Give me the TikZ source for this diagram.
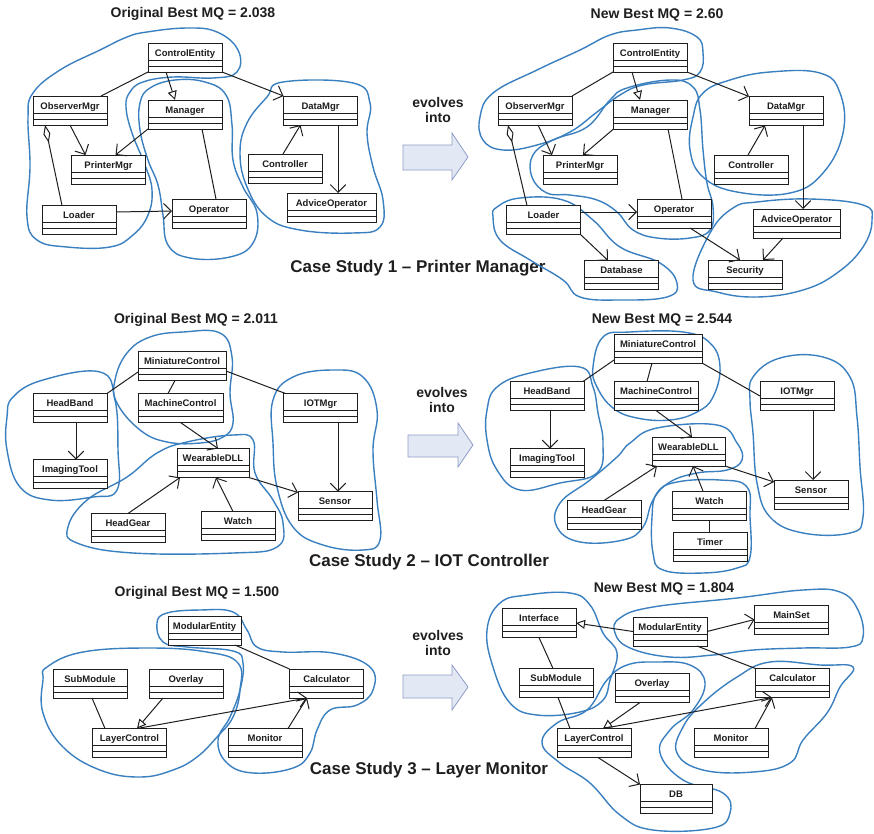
\documentclass[tikz,border=0pt]{standalone}
\usepackage{fontspec}
\setmainfont{Liberation Sans}
\usetikzlibrary{arrows.meta}

\definecolor{clusterblue}{HTML}{3A7FBF}
\definecolor{arrowfill}{HTML}{E3E8F5}
\definecolor{arrowedge}{HTML}{8D9CC6}
\definecolor{ink}{HTML}{1E1E1E}

\tikzset{
  cls/.style={draw=ink, line width=1pt, fill=white,
    minimum width=74pt, minimum height=29pt,
    inner sep=0pt, outer sep=0pt, text height=13pt, text depth=16pt,
    font=\fontsize{9.5}{10}\selectfont\bfseries, text=ink,
    path picture={
      \draw[ink, line width=0.8pt]
        ([yshift=-17pt]path picture bounding box.north west) --
        ([yshift=-17pt]path picture bounding box.north east)
        ([yshift=-23pt]path picture bounding box.north west) --
        ([yshift=-23pt]path picture bounding box.north east);
    }},
  uline/.style={draw=ink, line width=1pt},
  assoc/.style={uline, -{Straight Barb[scale=2.2]}},
  gen/.style={uline, -{Triangle[length=9pt, width=9pt, fill=white]}},
  agg/.style={uline, {Diamond[length=18pt, width=7pt, fill=white]}-},
  cluster/.style={draw=clusterblue, line width=1.4pt},
  heading/.style={font=\fontsize{14}{16}\selectfont\bfseries, text=ink},
  casestudy/.style={font=\fontsize{17}{19}\selectfont\bfseries, text=ink},
  evolvetext/.style={font=\fontsize{14}{15}\selectfont\bfseries, text=ink, align=center},
  evolvearrow/.style={fill=arrowfill, draw=arrowedge, line width=0.8pt},
}

\begin{document}
\begin{tikzpicture}[x=1pt, y=-1pt]
\useasboundingbox (0,0) rectangle (874,833);

% ---------------- headings ----------------
\node[heading] (t1l) at (193,14) {Original Best MQ = 2.038};
\node[heading] (t1r) at (657,15) {New Best MQ = 2.60};
\node[heading] (t2l) at (196,320) {Original Best MQ = 2.011};
\node[heading] (t2r) at (662,320) {New Best MQ = 2.544};
\node[heading] (t3l) at (197,593) {Original Best MQ = 1.500};
\node[heading] (t3r) at (664,589) {New Best MQ = 1.804};

\node[casestudy] (cs1) at (418,268) {Case Study 1 – Printer Manager};
\node[casestudy] (cs2) at (429,562) {Case Study 2 – IOT Controller};
\node[casestudy] (cs3) at (429,770) {Case Study 3 – Layer Monitor};

% ---------------- "evolves into" arrows ----------------
\node[evolvetext] (ev1) at (438,110) {evolves\\into};
\draw[evolvearrow] (403,145) -- (452,145) -- (452,133) -- (468,157) -- (452,180) -- (452,170) -- (403,170) -- cycle;
\node[evolvetext] (ev2) at (442,400) {evolves\\into};
\draw[evolvearrow] (408,435) -- (458,435) -- (458,423) -- (473,445) -- (458,467) -- (458,457) -- (408,457) -- cycle;
\node[evolvetext] (ev3) at (438,643) {evolves\\into};
\draw[evolvearrow] (403,675) -- (452,675) -- (452,665) -- (468,687) -- (452,710) -- (452,698) -- (403,698) -- cycle;

% ---------------- clusters ----------------
% case study 1, original
\draw[cluster] plot[smooth cycle, tension=0.7] coordinates {
  (147,32) (187,28) (217,32) (238,50) (237,72) (213,78) (173,77) (143,82)
  (130,92) (126,107) (132,133) (145,165) (152,190) (148,215) (133,235)
  (110,247) (67,247) (37,240) (27,217) (30,167) (28,117) (33,93) (60,70)
  (100,50) (127,37)};
\draw[cluster] plot[smooth cycle, tension=0.7] coordinates {
  (150,88) (175,80) (205,82) (226,95) (232,125) (233,160) (243,187)
  (257,213) (253,243) (230,257) (190,258) (168,245) (163,215) (158,185)
  (148,160) (140,130) (140,103)};
\draw[cluster] plot[smooth cycle, tension=0.7] coordinates {
  (283,82) (353,83) (370,103) (367,133) (373,167) (383,200) (380,227)
  (353,233) (300,230) (267,217) (247,187) (240,153) (247,123) (267,97)};
% case study 1, new
\draw[cluster] plot[smooth cycle, tension=0.7] coordinates {
  (637,30) (670,28) (697,37) (703,53) (700,72) (683,80) (643,85) (620,95)
  (597,112) (570,132) (537,145) (503,150) (483,140) (480,117) (493,93)
  (537,70) (580,50) (610,35)};
\draw[cluster] plot[smooth cycle, tension=0.7] coordinates {
  (627,88) (670,80) (693,87) (700,110) (703,150) (707,183) (713,207)
  (710,230) (690,238) (657,238) (633,230) (617,212) (597,200) (570,195)
  (547,193) (532,177) (533,155) (553,140) (587,127) (610,100)};
\draw[cluster] plot[smooth cycle, tension=0.7] coordinates {
  (730,80) (770,72) (820,73) (840,93) (843,133) (823,173) (790,193)
  (737,192) (703,177) (690,150) (693,117) (703,93)};
\draw[cluster] plot[smooth cycle, tension=0.7] coordinates {
  (497,207) (520,198) (563,200) (593,220) (620,247) (660,263) (677,283)
  (667,297) (620,300) (580,297) (563,280) (530,260) (500,240) (493,217)};
\draw[cluster] plot[smooth cycle, tension=0.7] coordinates {
  (693,280) (710,233) (733,208) (757,202) (810,199) (863,205) (872,220)
  (863,247) (837,273) (803,290) (757,297) (717,292)};
% case study 2, original
\draw[cluster] plot[smooth cycle, tension=0.7] coordinates {
  (13,397) (43,380) (100,372) (115,400) (118,450) (117,490) (93,497)
  (50,500) (20,487) (7,450) (7,417)};
\draw[cluster] plot[smooth cycle, tension=0.7] coordinates {
  (115,380) (127,353) (150,337) (183,332) (220,333) (232,357) (230,393)
  (233,423) (223,437) (200,443) (167,442) (140,430) (117,403)};
\draw[cluster] plot[smooth cycle, tension=0.7] coordinates {
  (157,453) (187,442) (233,435) (253,440) (255,473) (273,500) (283,523)
  (277,547) (233,553) (133,553) (77,543) (68,527) (87,500) (127,477)};
\draw[cluster] plot[smooth cycle, tension=0.7] coordinates {
  (273,400) (293,377) (333,370) (363,377) (377,410) (373,450) (377,500)
  (380,540) (363,550) (323,545) (293,527) (277,487) (273,443)};
% case study 2, new
\draw[cluster] plot[smooth cycle, tension=0.7] coordinates {
  (593,367) (603,337) (630,332) (683,332) (710,343) (720,367) (713,397)
  (697,412) (670,420) (637,418) (613,408) (597,387)};
\draw[cluster] plot[smooth cycle, tension=0.7] coordinates {
  (487,440) (487,410) (497,387) (530,373) (580,367) (593,387) (598,413)
  (603,443) (597,473) (560,483) (520,490) (497,470)};
\draw[cluster] plot[smooth cycle, tension=0.7] coordinates {
  (630,443) (657,428) (717,425) (737,443) (742,460) (727,470) (697,473)
  (670,482) (653,500) (643,527) (623,540) (580,542) (557,527) (560,503)
  (590,480) (617,457)};
\draw[cluster] plot[smooth cycle, tension=0.7] coordinates {
  (652,517) (657,493) (677,482) (720,480) (747,487) (750,517) (750,557)
  (737,568) (703,573) (663,570) (653,553)};
\draw[cluster] plot[smooth cycle, tension=0.7] coordinates {
  (750,400) (753,377) (780,358) (823,357) (850,377) (857,417) (860,467)
  (863,517) (850,533) (803,533) (770,517) (757,483) (753,433)};
% case study 3, original
\draw[cluster] plot[smooth cycle, tension=0.7] coordinates {
  (157,623) (167,613) (200,610) (233,612) (247,630) (257,647) (283,652)
  (333,653) (370,667) (373,690) (357,705) (330,710) (317,730) (310,753)
  (293,768) (253,773) (227,763) (218,740) (230,717) (240,690) (243,663)
  (233,651) (187,647) (163,642)};
\draw[cluster] plot[smooth cycle, tension=0.7] coordinates {
  (43,680) (47,667) (83,652) (150,648) (207,652) (238,663) (240,690)
  (233,717) (217,737) (197,757) (173,770) (140,777) (100,770) (63,747)
  (43,713)};
% case study 3, new
\draw[cluster] plot[smooth cycle, tension=0.7] coordinates {
  (500,603) (527,595) (570,593) (590,605) (603,633) (617,653) (610,680)
  (603,700) (580,712) (537,715) (510,703) (493,667) (487,630)};
\draw[cluster] plot[smooth cycle, tension=0.7] coordinates {
  (615,633) (620,618) (653,607) (737,598) (803,590) (840,592) (858,610)
  (863,637) (850,647) (803,648) (753,650) (713,655) (670,657) (630,648)};
\draw[cluster] plot[smooth cycle, tension=0.7] coordinates {
  (542,743) (557,723) (587,710) (607,680) (627,665) (657,662) (690,665)
  (705,683) (693,710) (670,730) (660,753) (683,780) (723,793) (730,813)
  (713,828) (653,830) (620,815) (590,783) (560,763)};
\draw[cluster] plot[smooth cycle, tension=0.7] coordinates {
  (677,753) (683,727) (703,703) (737,677) (770,662) (820,665) (853,667)
  (840,687) (827,713) (803,740) (790,763) (753,772) (703,770)};

% ---------------- case study 1, original ----------------
\node[cls] (ce1) at (185,57.5) {ControlEntity};
\node[cls] (om1) at (70,110.5) {ObserverMgr};
\node[cls] (ma1) at (185,114.5) {Manager};
\node[cls] (dm1) at (320.5,110.5) {DataMgr};
\node[cls] (pm1) at (108.5,169.5) {PrinterMgr};
\node[cls] (ct1) at (285,168.5) {Controller};
\node[cls, minimum width=89pt] (ao1) at (331.5,207.5) {AdviceOperator};
\node[cls] (ld1) at (79,220) {Loader};
\node[cls] (op1) at (209,213.5) {Operator};

\draw[uline] (ce1.south west) -- ([xshift=-6pt]om1.north east);
\draw[gen] ([xshift=-19pt]ce1.south) -- ([xshift=-10pt]ma1.north);
\draw[assoc] (ce1.south east) -- (dm1.north west);
\draw[assoc] (om1.south) -- ([xshift=-23pt]pm1.north);
\draw[assoc] (ma1.south west) -- ([xshift=7pt]pm1.north);
\draw[agg] ([xshift=-25pt]om1.south) -- ([xshift=-17pt]ld1.north);
\draw[uline] ([xshift=17pt]ma1.south) -- ([xshift=7pt]op1.north);
\draw[assoc] ([yshift=8pt]ld1.east) -- ([yshift=2.5pt]op1.west);
\draw[assoc] ([xshift=-2pt]ct1.north) -- ([xshift=-20pt]dm1.south);
\draw[assoc] ([xshift=17.5pt]dm1.south) -- ([xshift=6.5pt]ao1.north);

% ---------------- case study 1, new ----------------
\node[cls] (ce2) at (650,57.5) {ControlEntity};
\node[cls] (om2) at (535,110.5) {ObserverMgr};
\node[cls] (ma2) at (650.5,114.5) {Manager};
\node[cls] (dm2) at (786,111) {DataMgr};
\node[cls] (pm2) at (580,169.5) {PrinterMgr};
\node[cls] (ct2) at (751,169.5) {Controller};
\node[cls] (ld2) at (543.5,220) {Loader};
\node[cls] (op2) at (674,213.5) {Operator};
\node[cls, minimum width=87pt] (ao2) at (796.5,223.5) {AdviceOperator};
\node[cls] (db2) at (621.5,275) {Database};
\node[cls] (se2) at (745,274.5) {Security};

\draw[uline] (ce2.south west) -- (om2.north east);
\draw[gen] ([xshift=-18pt]ce2.south) -- ([xshift=-10.5pt]ma2.north);
\draw[assoc] (ce2.south east) -- (dm2.north west);
\draw[assoc] ([xshift=3pt]om2.south) -- ([xshift=-28pt]pm2.north);
\draw[assoc] (ma2.south west) -- ([xshift=3pt]pm2.north);
\draw[agg] ([xshift=-27pt]om2.south) -- ([xshift=-16.5pt]ld2.north);
\draw[uline] ([xshift=17.5pt]ma2.south) -- ([xshift=8pt]op2.north);
\draw[assoc] ([yshift=8pt]ld2.east) -- ([yshift=1.5pt]op2.west);
\draw[assoc] (ld2.south east) -- ([xshift=-13.5pt]db2.north);
\draw[assoc] ([xshift=16pt]op2.south) -- ([xshift=-5pt]se2.north);
\draw[assoc] ([xshift=-3pt]ct2.north) -- ([xshift=-21pt]dm2.south);
\draw[assoc] ([xshift=17pt]dm2.south) -- ([xshift=6.5pt]ao2.north);
\draw[assoc] ([xshift=-13.5pt]ao2.south) -- ([xshift=18pt]se2.north);

% ---------------- case study 2, original ----------------
\node[cls, minimum width=88pt] (mic3) at (182,366) {MiniatureControl};
\node[cls] (hb3) at (70,408) {HeadBand};
\node[cls, minimum width=85pt] (mac3) at (180.5,408) {MachineControl};
\node[cls] (iot3) at (320.5,408) {IOTMgr};
\node[cls] (it3) at (70,474) {ImagingTool};
\node[cls, minimum width=72pt] (wd3) at (213,463) {WearableDLL};
\node[cls] (sn3) at (335,506) {Sensor};
\node[cls] (hg3) at (128,528) {HeadGear};
\node[cls] (wa3) at (238,526) {Watch};

\draw[uline] ([yshift=-6pt]mic3.west) -- (hb3.north east);
\draw[uline] ([xshift=-7pt]mic3.south) -- ([xshift=-12.5pt]mac3.north);
\draw[uline] ([yshift=-5pt]mic3.east) -- ([xshift=2pt]iot3.north west);
\draw[assoc] ([xshift=6pt]hb3.south) -- ([xshift=6pt]it3.north);
\draw[assoc] (mac3.south) -- ([xshift=5pt]wd3.north);
\draw[assoc] ([xshift=17.5pt]iot3.south) -- ([xshift=3pt]sn3.north);
\draw[assoc] (wd3.south east) -- ([yshift=-1pt]sn3.north west);
\draw[assoc] (hg3.north) -- ([xshift=-33pt]wd3.south);
\draw[assoc] ([xshift=-5pt]wa3.north) -- ([xshift=3pt]wd3.south);

% ---------------- case study 2, new ----------------
\node[cls, minimum width=88pt] (mic4) at (658,348.5) {MiniatureControl};
\node[cls] (hb4) at (547,396) {HeadBand};
\node[cls, minimum width=84pt] (mac4) at (656,396) {MachineControl};
\node[cls] (iot4) at (797,396) {IOTMgr};
\node[cls] (it4) at (547,463) {ImagingTool};
\node[cls, minimum width=73pt] (wd4) at (688.5,451.5) {WearableDLL};
\node[cls] (sn4) at (811,494.5) {Sensor};
\node[cls] (hg4) at (604,515) {HeadGear};
\node[cls] (wa4) at (709.5,505.5) {Watch};
\node[cls] (ti4) at (710,547) {Timer};

\draw[uline] ([yshift=-11.5pt]mic4.west) -- ([xshift=-1pt]hb4.north east);
\draw[uline] ([xshift=-6pt]mic4.south) -- ([xshift=-9pt]mac4.north);
\draw[uline] (mic4.south east) -- (iot4.west);
\draw[assoc] ([xshift=3pt]hb4.south) -- ([xshift=3pt]it4.north);
\draw[assoc] (mac4.south) -- ([xshift=3.5pt]wd4.north);
\draw[assoc] ([xshift=16pt]iot4.south) -- ([xshift=2pt]sn4.north);
\draw[assoc] (wd4.south east) -- ([yshift=-2pt]sn4.north west);
\draw[assoc] (hg4.north) -- ([xshift=-31.5pt]wd4.south);
\draw[assoc] ([xshift=-6.5pt]wa4.north) -- ([xshift=4.5pt]wd4.south);
\draw[uline] (wa4.south) -- (ti4.north -| wa4.south);

% ---------------- case study 3, original ----------------
\node[cls, minimum width=73pt] (me5) at (204.5,630.5) {ModularEntity};
\node[cls] (sm5) at (90,683.5) {SubModule};
\node[cls] (ov5) at (186,683.5) {Overlay};
\node[cls] (ca5) at (326.5,683.5) {Calculator};
\node[cls] (lc5) at (129.5,743) {LayerControl};
\node[cls] (mo5) at (265,743) {Monitor};

\draw[uline] ([xshift=-6pt]me5.south east) -- (ca5.north west);
\draw[uline] ([xshift=2pt]sm5.south) -- ([xshift=-24.5pt]lc5.north);
\draw[gen] ([xshift=-23pt]ov5.south) -- ([xshift=7.5pt]lc5.north);
\draw[assoc] ([xshift=7.5pt]lc5.north) -- ([xshift=-19.5pt]ca5.south);
\draw[assoc] ([xshift=23pt]mo5.north) -- ([xshift=-19.5pt]ca5.south);

% ---------------- case study 3, new ----------------
\node[cls] (if6) at (539,623) {Interface};
\node[cls] (me6) at (670,631.5) {ModularEntity};
\node[cls] (ms6) at (791.5,619.5) {MainSet};
\node[cls] (sm6) at (556,683) {SubModule};
\node[cls] (ov6) at (652,688) {Overlay};
\node[cls] (ca6) at (792.5,683) {Calculator};
\node[cls] (lc6) at (594,743) {LayerControl};
\node[cls] (mo6) at (731,743) {Monitor};
\node[cls, minimum width=72pt] (db6) at (676,799) {DB};

\draw[gen] (me6.west) -- (if6.east);
\draw[assoc] (me6.east) -- (ms6.west);
\draw[uline] ([xshift=-10pt]me6.south east) -- (ca6.north west);
\draw[uline] (if6.south) -- ([xshift=-3pt]sm6.north);
\draw[uline] ([xshift=2pt]sm6.south) -- ([xshift=-24pt]lc6.north);
\draw[gen] ([xshift=-12pt]ov6.south) -- ([xshift=9pt]lc6.north);
\draw[assoc] ([xshift=9pt]lc6.north) -- ([xshift=-20.5pt]ca6.south);
\draw[assoc] ([xshift=24pt]mo6.north) -- ([xshift=-20.5pt]ca6.south);
\draw[assoc] ([xshift=4pt]lc6.south) -- (db6.north west);
\end{tikzpicture}
\end{document}
